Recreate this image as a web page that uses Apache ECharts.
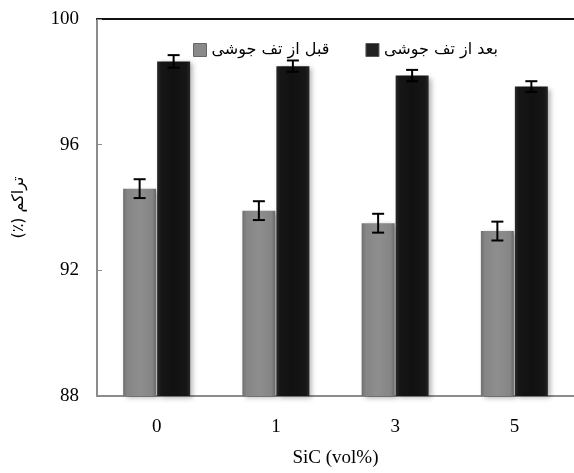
<!DOCTYPE html>
<html>
<head>
<meta charset="utf-8">
<script src="https://cdn.jsdelivr.net/npm/echarts@6/dist/echarts.min.js"></script>
<style>html,body{margin:0;padding:0;background:#fff}#c{width:574px;height:473px}</style>
</head>
<body>
<div id="c"></div>
<script>
var categories = ['0', '1', '3', '5'];
var seriesNames = ['قبل از تف جوشی', 'بعد از تف جوشی'];
var beforeValues = [94.6, 93.9, 93.5, 93.25];
var beforeErrors = [0.3, 0.3, 0.3, 0.3];
var afterValues = [98.65, 98.5, 98.2, 97.85];
var afterErrors = [0.2, 0.18, 0.18, 0.17];
var yTicks = [88, 92, 96, 100];

var serif = '"Liberation Serif", "Times New Roman", serif';
var persian = '"DejaVu Sans", "Noto Sans", sans-serif';

function hGrad(stops) {
  return new echarts.graphic.LinearGradient(0, 0, 1, 0, stops.map(function (s) { return { offset: s[0], color: s[1] }; }));
}
var grayFill = hGrad([[0, '#6f6f6f'], [0.12, '#858585'], [0.5, '#8e8e8e'], [0.88, '#858585'], [1, '#6a6a6a']]);
var blackFill = hGrad([[0, '#2a2a2a'], [0.12, '#161616'], [0.5, '#111111'], [0.88, '#161616'], [1, '#262626']]);

function errorSeries(values, errors, offset) {
  return {
    type: 'custom',
    silent: true,
    z: 5,
    data: values.map(function (v, i) { return [i, v - errors[i], v + errors[i]]; }),
    renderItem: function (params, api) {
      var lo = api.coord([api.value(0), api.value(1)]);
      var hi = api.coord([api.value(0), api.value(2)]);
      var x = lo[0] + offset;
      var hw = 6;
      var st = { stroke: '#000', lineWidth: 2 };
      return {
        type: 'group',
        children: [
          { type: 'line', shape: { x1: x, y1: lo[1], x2: x, y2: hi[1] }, style: st },
          { type: 'line', shape: { x1: x - hw, y1: lo[1], x2: x + hw, y2: lo[1] }, style: st },
          { type: 'line', shape: { x1: x - hw, y1: hi[1], x2: x + hw, y2: hi[1] }, style: st }
        ]
      };
    }
  };
}

var chart = echarts.init(document.getElementById('c'), null, { renderer: 'canvas' });
chart.setOption({
  animation: false,
  backgroundColor: '#fff',
  grid: { left: 97, top: 19, width: 480, height: 379, containLabel: false },
  legend: {
    left: 188, top: 37,
    itemWidth: 13, itemHeight: 13, itemGap: 36,
    icon: 'rect',
    data: [
      { name: seriesNames[0], itemStyle: { color: '#8a8a8a', borderColor: '#666', borderWidth: 1 } },
      { name: seriesNames[1], itemStyle: { color: '#222', borderColor: '#555', borderWidth: 1 } }
    ],
    textStyle: { fontFamily: persian, fontSize: 16, color: '#000' }
  },
  xAxis: [{
    type: 'category',
    data: categories,
    name: 'SiC (vol%)',
    nameLocation: 'middle',
    nameGap: 53,
    nameTextStyle: { fontFamily: serif, fontSize: 19, color: '#000' },
    axisLine: { lineStyle: { color: '#8c8c8c', width: 2 } },
    axisTick: { show: false },
    axisLabel: { fontFamily: serif, fontSize: 19, color: '#000', margin: 22 }
  }, {
    type: 'category',
    data: categories,
    position: 'top',
    axisLine: { lineStyle: { color: '#111', width: 2 } },
    axisTick: { show: false },
    axisLabel: { show: false }
  }],
  yAxis: {
    type: 'value',
    min: yTicks[0], max: yTicks[yTicks.length - 1], interval: 4,
    name: '\u200Fتراکم (٪)\u200F',
    nameLocation: 'middle',
    nameGap: 70,
    nameRotate: 90,
    nameTextStyle: { fontFamily: persian, fontSize: 16, color: '#000' },
    axisLine: { show: true, lineStyle: { color: '#8c8c8c', width: 2 } },
    axisTick: { show: true, inside: true, length: 5, lineStyle: { color: '#8c8c8c', width: 1 } },
    splitLine: { show: false },
    axisLabel: { fontFamily: serif, fontSize: 19, color: '#000', margin: 18 }
  },
  series: [{
    name: seriesNames[0],
    type: 'bar',
    data: beforeValues,
    barWidth: 33,
    barGap: '3%',
    itemStyle: { color: grayFill, shadowColor: 'rgba(0,0,0,0.3)', shadowBlur: 5, shadowOffsetX: 3, shadowOffsetY: 2 }
  }, {
    name: seriesNames[1],
    type: 'bar',
    data: afterValues,
    barWidth: 33,
    barGap: '3%',
    itemStyle: { color: blackFill, shadowColor: 'rgba(0,0,0,0.3)', shadowBlur: 5, shadowOffsetX: 3, shadowOffsetY: 2 }
  },
  errorSeries(beforeValues, beforeErrors, -17),
  errorSeries(afterValues, afterErrors, 17)
  ]
});
</script>
</body>
</html>
